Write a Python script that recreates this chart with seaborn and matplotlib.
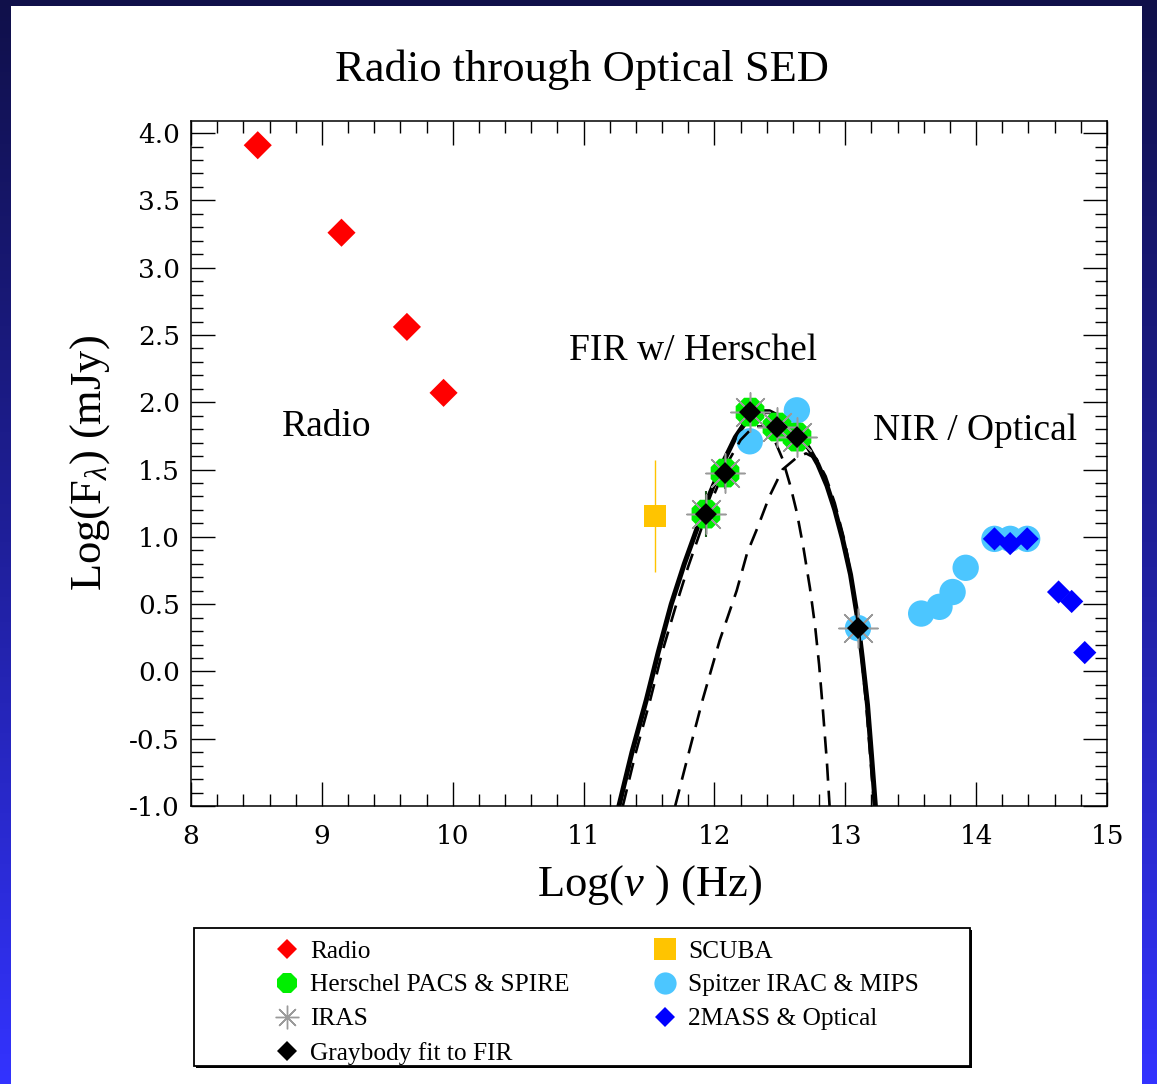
import numpy as np
import pandas as pd
import matplotlib
matplotlib.use("Agg")
import matplotlib.pyplot as plt
from matplotlib.patches import Rectangle
from matplotlib.lines import Line2D
from matplotlib.ticker import MultipleLocator
from matplotlib.colors import LinearSegmentedColormap
import seaborn as sns

# ---------------- data (log nu [Hz], log F [mJy]) ----------------
radio_x = [8.51, 9.15, 9.65, 9.93]
radio_y = [3.91, 3.26, 2.56, 2.07]

herschel_x = [11.935, 12.081, 12.272, 12.478, 12.631]
herschel_y = [1.169, 1.474, 1.927, 1.816, 1.741]
herschel_err = [0.17, 0.12, 0.0, 0.0, 0.0]

iras_x = [11.935, 12.081, 12.272, 12.478, 12.631, 13.097]
iras_y = [1.169, 1.474, 1.927, 1.816, 1.741, 0.322]

graybody_x = [11.935, 12.081, 12.272, 12.478, 12.631, 13.097]
graybody_y = [1.169, 1.474, 1.927, 1.816, 1.741, 0.322]

scuba_x = [11.546]
scuba_y = [1.155]
scuba_err = [0.416]

spitzer_x = [12.27, 12.63, 13.097, 13.58, 13.72, 13.82, 13.92, 14.14, 14.26, 14.39]
spitzer_y = [1.71, 1.94, 0.322, 0.43, 0.48, 0.59, 0.77, 0.985, 0.985, 0.985]

optical_x = [14.14, 14.26, 14.39, 14.63, 14.73, 14.83]
optical_y = [0.985, 0.95, 0.985, 0.59, 0.52, 0.14]

# graybody fit curves
total_x = [11.27, 11.37, 11.48, 11.57, 11.67, 11.77, 11.87, 11.97, 12.07, 12.16,
           12.25, 12.33, 12.42, 12.50, 12.58, 12.65, 12.72, 12.79, 12.86, 12.92,
           12.98, 13.04, 13.09, 13.13, 13.17, 13.20, 13.23]
total_y = [-1.0, -0.60, -0.21, 0.14, 0.50, 0.80, 1.07, 1.33, 1.56, 1.74,
           1.87, 1.93, 1.93, 1.89, 1.83, 1.75, 1.66, 1.54, 1.38, 1.20,
           0.98, 0.72, 0.42, 0.10, -0.25, -0.62, -1.0]

cold_x = [11.30, 11.40, 11.51, 11.60, 11.70, 11.80, 11.90, 12.00, 12.10, 12.20,
          12.30, 12.38, 12.45, 12.52, 12.58, 12.63, 12.68, 12.73, 12.77, 12.80,
          12.83, 12.86, 12.88]
cold_y = [-1.0, -0.60, -0.21, 0.14, 0.47, 0.78, 1.06, 1.32, 1.55, 1.72,
          1.82, 1.82, 1.74, 1.58, 1.38, 1.18, 0.92, 0.62, 0.33, 0.05,
          -0.30, -0.68, -1.0]

warm_x = [11.70, 11.80, 11.91, 12.04, 12.17, 12.25, 12.33, 12.42, 12.52, 12.63,
          12.70, 12.78, 12.85, 12.92, 13.00, 13.06, 13.11, 13.16, 13.22]
warm_y = [-1.0, -0.62, -0.21, 0.23, 0.60, 0.88, 1.07, 1.30, 1.50, 1.59,
          1.62, 1.58, 1.45, 1.25, 0.95, 0.62, 0.25, -0.25, -1.0]

x_ticks = [8, 9, 10, 11, 12, 13, 14, 15]
y_ticks = [-1.0, -0.5, 0.0, 0.5, 1.0, 1.5, 2.0, 2.5, 3.0, 3.5, 4.0]

c_red = "#ff0000"
c_green = "#00ee00"
c_gray = "#9a9a9a"
c_yellow = "#ffc400"
c_lblue = "#4cc6ff"
c_blue = "#0000ff"

# ---------------- style ----------------
sns.set_theme(style="white")
plt.rcParams["font.family"] = ["Liberation Serif", "DejaVu Serif"]
plt.rcParams["mathtext.fontset"] = "custom"
plt.rcParams["mathtext.rm"] = "Liberation Serif"
plt.rcParams["mathtext.it"] = "Liberation Serif:italic"

W, H = 1157, 1084
fig = plt.figure(figsize=(W / 100, H / 100), dpi=100)

# background gradient with white panel
bg = fig.add_axes([0, 0, 1, 1], zorder=-10)
cmap = LinearSegmentedColormap.from_list("bgblue", ["#10104a", "#1f1f9a", "#3333ff"])
grad = np.linspace(0, 1, 256).reshape(-1, 1)
bg.imshow(grad, aspect="auto", cmap=cmap, extent=[0, 1, 0, 1], origin="upper")
bg.add_patch(Rectangle((11 / W, 0), (1142 - 11) / W, (H - 6) / H, transform=bg.transAxes,
                       facecolor="white", edgecolor="none"))
bg.set_xlim(0, 1); bg.set_ylim(0, 1)
bg.axis("off")

ax = fig.add_axes([191 / W, 1 - 806 / H, (1107 - 191) / W, (806 - 121) / H])
ax.set_facecolor("white")

# curves
sns.lineplot(x=total_x, y=total_y, sort=False, estimator=None, color="black",
             linewidth=3.6, ax=ax, zorder=2)
sns.scatterplot(x=spitzer_x, y=spitzer_y, marker="o", s=360, color=c_lblue,
                linewidth=0, edgecolor="none", ax=ax, zorder=3)
sns.lineplot(x=cold_x, y=cold_y, sort=False, estimator=None, color="black",
             linewidth=1.9, linestyle=(0, (6.5, 3.8)), ax=ax, zorder=4)
sns.lineplot(x=warm_x, y=warm_y, sort=False, estimator=None, color="black",
             linewidth=1.9, linestyle=(0, (6.5, 3.8)), ax=ax, zorder=4)

# SCUBA
ax.errorbar(scuba_x, scuba_y, yerr=scuba_err, fmt="none", ecolor=c_yellow,
            elinewidth=1.0, capsize=0, zorder=5)
sns.scatterplot(x=scuba_x, y=scuba_y, marker="s", s=270, color=c_yellow,
                linewidth=0, edgecolor="none", ax=ax, zorder=5)

# Radio
sns.scatterplot(x=radio_x, y=radio_y, marker="D", s=205, color=c_red,
                linewidth=0, edgecolor="none", ax=ax, zorder=5)

# Herschel
sns.scatterplot(x=herschel_x, y=herschel_y, marker="8", s=500, color=c_green,
                linewidth=0, edgecolor="none", ax=ax, zorder=6)
ax.errorbar(herschel_x, herschel_y, yerr=herschel_err, fmt="none", ecolor="#1e5a1e",
            elinewidth=1.5, capsize=0, zorder=6.5)

# IRAS
sns.scatterplot(x=iras_x, y=iras_y, marker=(8, 2, 0), s=800, color=c_gray,
                linewidth=1.1, ax=ax, zorder=7)

# Graybody
sns.scatterplot(x=graybody_x, y=graybody_y, marker="D", s=125, color="black",
                linewidth=0, edgecolor="none", ax=ax, zorder=8)

# 2MASS & optical
sns.scatterplot(x=optical_x, y=optical_y, marker="D", s=140, color=c_blue,
                linewidth=0, edgecolor="none", ax=ax, zorder=8)

ax.set_xlim(8, 15)
ax.set_ylim(-1.0, 4.09)
ax.set_xticks(x_ticks)
ax.set_yticks(y_ticks)
ax.set_xticklabels([str(v) for v in x_ticks])
ax.set_yticklabels([f"{v:.1f}" for v in y_ticks])
ax.xaxis.set_minor_locator(MultipleLocator(0.2))
ax.yaxis.set_minor_locator(MultipleLocator(0.1))
ax.tick_params(which="both", direction="in", top=True, right=True, bottom=True, left=True,
               color="black", width=1.0)
ax.tick_params(which="major", length=17)
ax.tick_params(which="minor", length=8.5)
ax.tick_params(axis="y", which="major", pad=8)
ax.tick_params(axis="x", which="major", pad=13)
for lab in ax.get_xticklabels() + ax.get_yticklabels():
    lab.set_fontfamily("DejaVu Serif")
    lab.set_fontsize(19)
    lab.set_color("black")
for sp in ax.spines.values():
    sp.set_color("black")
    sp.set_linewidth(1.1)
    sp.set_visible(True)

ax.set_xlabel(r"Log($\mathit{v}$ ) (Hz)", fontsize=32, color="black", labelpad=10)
ax.set_ylabel(r"Log(F$_\lambda$) (mJy)", fontsize=32, color="black", labelpad=12)

ax.text(9.04, 1.815, "Radio", fontsize=27, ha="center", va="center", color="black")
ax.text(11.84, 2.38, "FIR w/ Herschel", fontsize=27, ha="center", va="center", color="black")
ax.text(13.99, 1.79, "NIR / Optical", fontsize=27, ha="center", va="center", color="black")

fig.text(582 / W, 1 - 70 / H, "Radio through Optical SED", fontsize=32,
         ha="center", va="center", color="black")

# legend box
bx0, by0, bx1, by1 = 194, 928, 970, 1066
fig.patches.append(Rectangle(((bx0 + 2) / W, 1 - (by1 + 2) / H), (bx1 - bx0) / W, (by1 - by0) / H,
                             transform=fig.transFigure, facecolor="black", edgecolor="none", zorder=1))
fig.patches.append(Rectangle((bx0 / W, 1 - by1 / H), (bx1 - bx0) / W, (by1 - by0) / H,
                             transform=fig.transFigure, facecolor="white", edgecolor="black",
                             linewidth=1.3, zorder=2))

handles = [
    Line2D([], [], linestyle="none", marker="D", markersize=10.5, color=c_red, markeredgewidth=0),
    Line2D([], [], linestyle="none", marker="8", markersize=16, color=c_green, markeredgewidth=0),
    Line2D([], [], linestyle="none", marker=(8, 2, 0), markersize=17, color=c_gray, markeredgewidth=1.0),
    Line2D([], [], linestyle="none", marker="D", markersize=10.5, color="black", markeredgewidth=0),
    Line2D([], [], linestyle="none", marker="s", markersize=16, color=c_yellow, markeredgewidth=0),
    Line2D([], [], linestyle="none", marker="o", markersize=16, color=c_lblue, markeredgewidth=0),
    Line2D([], [], linestyle="none", marker="D", markersize=10.5, color=c_blue, markeredgewidth=0),
]
labels = ["Radio", "Herschel PACS & SPIRE", "IRAS", "Graybody fit to FIR",
          "SCUBA", "Spitzer IRAC & MIPS", "2MASS & Optical"]
leg = fig.legend(handles, labels, ncol=2, loc="upper left",
                 bbox_to_anchor=(262 / W, 1 - 927 / H), frameon=False,
                 fontsize=18.3, borderpad=0, handlelength=1.0, handletextpad=0.4,
                 columnspacing=3.25, labelspacing=0.44)
leg.set_zorder(5)
for t in leg.get_texts():
    t.set_color("black")

fig.savefig("out.png", dpi=100)
